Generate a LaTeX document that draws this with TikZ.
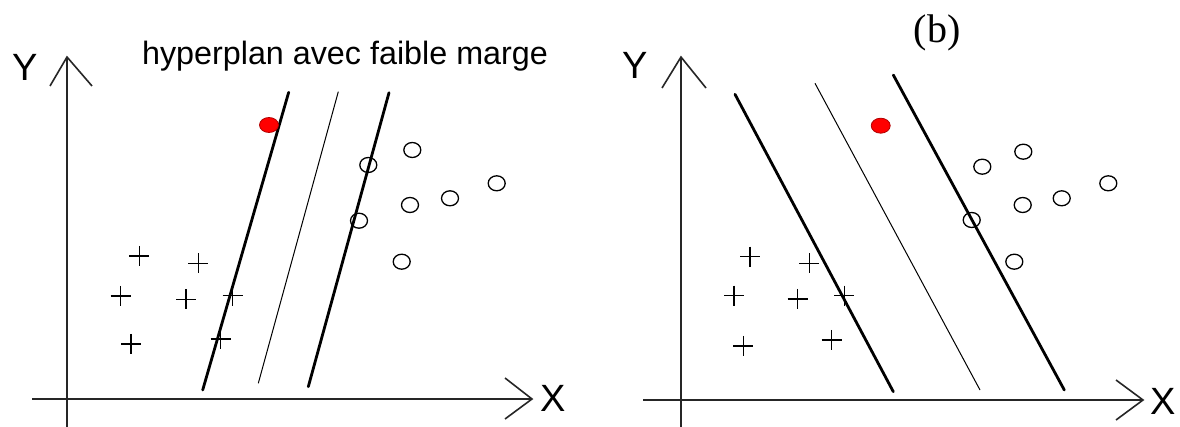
\documentclass[tikz,border=0pt]{standalone}
\usepackage{fontspec}
\setmainfont{Liberation Sans}
\newfontfamily\serifb{Liberation Serif}
\begin{document}
\begin{tikzpicture}[x=1pt,y=-1pt,
  axis/.style={line width=1.6pt,black!85},
  thickline/.style={line width=2.8pt,line cap=round},
  thinline/.style={line width=1pt},
  pt/.style={line width=1.3pt},
  reddot/.style={fill=red,draw=red!70!black,line width=0.8pt},
  lbl/.style={inner sep=0pt,font=\fontsize{38}{40}\selectfont},
]
\useasboundingbox (0,0) rectangle (1180,427);
\fill[white] (0,0) rectangle (1180,427);
% ---------- left panel ----------
\coordinate (lyt) at (67,57);
\coordinate (lyb) at (67,427);
\coordinate (lxl) at (32,399);
\coordinate (lxr) at (532,399);
\draw[axis] (lyb) -- (lyt);
\draw[axis] (lxl) -- (lxr);
\coordinate (lya) at (50,86); \coordinate (lyb2) at (92,86);
\draw[axis] (lya) -- (lyt) -- (lyb2);
\coordinate (lxa) at (505,378); \coordinate (lxb) at (505,419);
\draw[axis] (lxa) -- (lxr) -- (lxb);
\node[lbl] (ly) at (25,67) {Y};
\node[lbl] (lx) at (553,398) {X};
\node[inner sep=0pt,font=\fontsize{32.3}{34}\selectfont] (title) at (345,56) {hyperplan avec faible marge};
% lines
\coordinate (l1t) at (288.7,92.3); \coordinate (l1b) at (202.7,390);
\coordinate (l2t) at (338.3,91.7); \coordinate (l2b) at (258.3,383.3);
\coordinate (l3t) at (389,92.7); \coordinate (l3b) at (308.3,386.7);
\draw[thickline] (l1t) -- (l1b);
\draw[thinline] (l2t) -- (l2b);
\draw[thickline] (l3t) -- (l3b);
% red point
\draw[reddot] (269,125) ellipse [x radius=9.5, y radius=7.5];
% circles
\foreach \x/\y in {412.3/150, 368.3/165, 496.7/183.3, 450/198.3, 410/205, 359/220.7, 401.7/261.7}
  \draw[pt] (\x,\y) ellipse [x radius=8.5, y radius=7.5];
% pluses
\foreach \x/\y in {139.3/256, 198.3/263.3, 120.7/296, 186/299.3, 232.7/295.7, 131/344, 220.7/339}
  \draw[pt] (\x-10,\y) -- (\x+10,\y) (\x,\y-10) -- (\x,\y+10);
% ---------- right panel ----------
\coordinate (ryt) at (681,57);
\coordinate (ryb) at (681,427);
\coordinate (rxl) at (643,400);
\coordinate (rxr) at (1143,400);
\draw[axis] (ryb) -- (ryt);
\draw[axis] (rxl) -- (rxr);
\coordinate (rya) at (662,88); \coordinate (ryb2) at (706,88);
\draw[axis] (rya) -- (ryt) -- (ryb2);
\coordinate (rxa) at (1116,380); \coordinate (rxb) at (1116,420);
\draw[axis] (rxa) -- (rxr) -- (rxb);
\node[lbl] (ry) at (635,65) {Y};
\node[lbl] (rx) at (1163,401) {X};
\node[inner sep=0pt,font=\serifb\fontsize{40}{42}\selectfont] (b) at (937,33) {(b)};
\coordinate (r1t) at (735,94.3); \coordinate (r1b) at (893.3,391.7);
\coordinate (r2t) at (815,83.3); \coordinate (r2b) at (980,390);
\coordinate (r3t) at (893.3,75); \coordinate (r3b) at (1064.3,390);
\draw[thickline] (r1t) -- (r1b);
\draw[thinline] (r2t) -- (r2b);
\draw[thickline] (r3t) -- (r3b);
\draw[reddot] (880.7,125.7) ellipse [x radius=9.5, y radius=7.5];
\foreach \x/\y in {1023.3/151.7, 982.3/166.7, 1108.3/183.3, 1061.7/198.3, 1022.7/205, 971.7/220, 1014.3/261.7}
  \draw[pt] (\x,\y) ellipse [x radius=8.5, y radius=7.5];
\foreach \x/\y in {750/256.7, 809.3/263.3, 734/295.7, 797.7/299, 844.3/295.7, 743.3/346, 831.7/340}
  \draw[pt] (\x-10,\y) -- (\x+10,\y) (\x,\y-10) -- (\x,\y+10);
\end{tikzpicture}
\end{document}
